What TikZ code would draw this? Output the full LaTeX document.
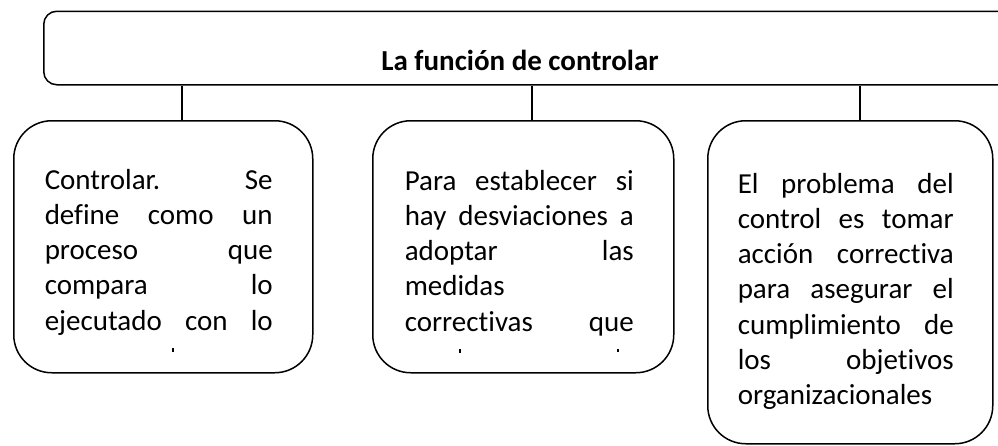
\documentclass[tikz,border=0pt]{standalone}
\usepackage{fontspec}
\setmainfont[Ligatures=NoCommon]{Carlito}
\newcommand{\jl}[1]{\hbox to \hsize{#1}}
\newcommand{\txtfont}{\fontsize{29}{35.3}\selectfont}
\begin{document}
\begin{tikzpicture}[x=1pt,y=-1pt,line width=1.5pt,
  rbox/.style={draw, rounded corners=38pt, anchor=north west, inner sep=0pt},
  topbox/.style={draw, rounded corners=13pt, anchor=north west, inner sep=0pt},
  txt/.style={anchor=base west, inner sep=0pt},
  conn/.style={draw, line width=1.5pt},
  remnant/.style={fill=black, draw=none}]
\useasboundingbox (0,0) rectangle (998,445);
\clip (0,0) rectangle (998,445);
% top box
\node[topbox, minimum width=980pt, minimum height=73.5pt] (top) at (43,10.5) {};
\node[anchor=base, inner sep=0pt, font=\bfseries\txtfont] (title) at (520,70) {La función de controlar};
% lower boxes
\node[rbox, minimum width=299pt, minimum height=252pt] (b1) at (13,120) {};
\node[rbox, minimum width=301pt, minimum height=252pt] (b2) at (372,120) {};
\node[rbox, minimum width=285pt, minimum height=323pt] (b3) at (707,120) {};
% connector x positions
\coordinate (c1) at (182,0);
\coordinate (c2) at (532,0);
\coordinate (c3) at (860,0);
\draw[conn] (top.south -| c1) -- (b1.north -| c1);
\draw[conn] (top.south -| c2) -- (b2.north -| c2);
\draw[conn] (top.south -| c3) -- (b3.north -| c3);
% texts
\node[txt] (t1) at (44,189) {\parbox[t]{228pt}{\txtfont
  \jl{Controlar.\hfill Se}
  \jl{define\hfill como\hfill un}
  \jl{proceso\hfill que}
  \jl{compara\hfill lo}
  \jl{ejecutado\hfill con\hfill lo}}};
\node[txt] (t2) at (404,190) {\parbox[t]{229pt}{\txtfont
  \jl{Para\hfill establecer\hfill si}
  \jl{hay\hfill desviaciones\hfill a}
  \jl{adoptar\hfill las}
  \jl{medidas\hfill}
  \jl{correctivas\hfill que}}};
\node[txt] (t3) at (737,193) {\parbox[t]{216pt}{\txtfont
  \jl{El\hfill problema\hfill del}
  \jl{control\hfill es\hfill tomar}
  \jl{acción\hfill correctiva}
  \jl{para\hfill asegurar\hfill el}
  \jl{cumplimiento\hfill de}
  \jl{los\hfill objetivos}
  \jl{organizacionales\hfill}}};
% clipped remnants of the next text line
\fill[remnant] (172,348) rectangle (174,351.5);
\fill[remnant] (458.5,349) rectangle (460.5,352.5);
\fill[remnant] (616.5,348.5) rectangle (618.5,352);
\end{tikzpicture}
\end{document}
